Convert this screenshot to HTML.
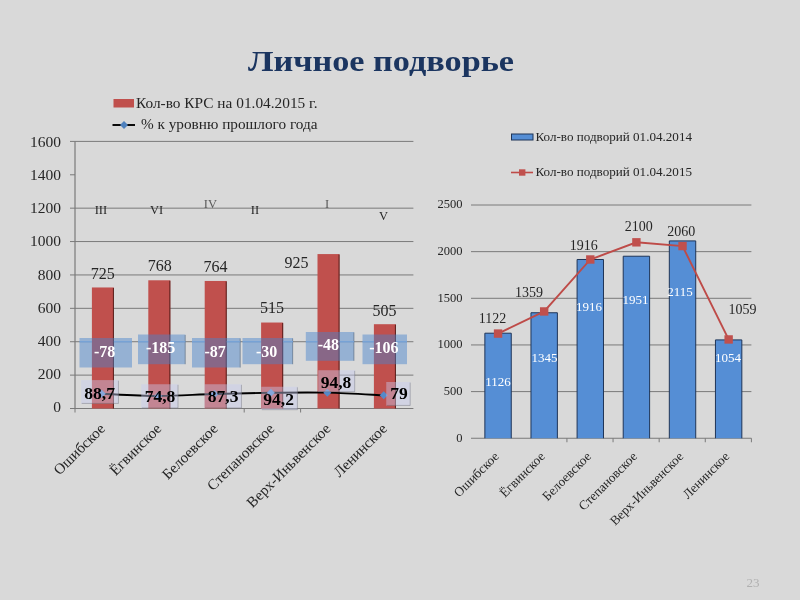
<!DOCTYPE html>
<html lang="ru">
<head>
<meta charset="utf-8">
<title>Личное подворье</title>
<style>
html,body{margin:0;padding:0;background:#d9d9d9;}
body{width:800px;height:600px;overflow:hidden;font-family:"Liberation Serif", serif;}
svg{display:block;font-family:"Liberation Serif", serif;filter:blur(0.4px);}
</style>
</head>
<body>
<svg width="800" height="600" viewBox="0 0 800 600">
<rect width="800" height="600" fill="#d9d9d9"/>
<text x="381" y="70.5" font-size="30" text-anchor="middle" font-weight="bold" fill="#1b3560" textLength="266" lengthAdjust="spacingAndGlyphs">Личное подворье</text>
<g id="left-chart">
<line x1="70" y1="375.11" x2="413.4" y2="375.11" stroke="#7a7a7a" stroke-width="1"/>
<line x1="70" y1="341.73" x2="413.4" y2="341.73" stroke="#7a7a7a" stroke-width="1"/>
<line x1="70" y1="308.34" x2="413.4" y2="308.34" stroke="#7a7a7a" stroke-width="1"/>
<line x1="70" y1="274.95" x2="413.4" y2="274.95" stroke="#7a7a7a" stroke-width="1"/>
<line x1="70" y1="241.56" x2="413.4" y2="241.56" stroke="#7a7a7a" stroke-width="1"/>
<line x1="70" y1="208.17" x2="413.4" y2="208.17" stroke="#7a7a7a" stroke-width="1"/>
<line x1="70" y1="141.40" x2="413.4" y2="141.40" stroke="#7a7a7a" stroke-width="1"/>
<line x1="70" y1="174.79" x2="75" y2="174.79" stroke="#7a7a7a" stroke-width="1"/>
<line x1="75" y1="141.4" x2="75" y2="408.5" stroke="#7a7a7a" stroke-width="1.2"/>
<line x1="70" y1="408.5" x2="413.4" y2="408.5" stroke="#7a7a7a" stroke-width="1.2"/>
<line x1="75.00" y1="408.5" x2="75.00" y2="412.5" stroke="#7a7a7a" stroke-width="1"/>
<line x1="244.20" y1="408.5" x2="244.20" y2="412.5" stroke="#7a7a7a" stroke-width="1"/>
<line x1="300.60" y1="408.5" x2="300.60" y2="412.5" stroke="#7a7a7a" stroke-width="1"/>
<text x="61" y="411.6" font-size="15.5" text-anchor="end" font-weight="normal" fill="#262626">0</text>
<text x="61" y="378.8" font-size="15.5" text-anchor="end" font-weight="normal" fill="#262626">200</text>
<text x="61" y="345.6" font-size="15.5" text-anchor="end" font-weight="normal" fill="#262626">400</text>
<text x="61" y="312.6" font-size="15.5" text-anchor="end" font-weight="normal" fill="#262626">600</text>
<text x="61" y="279.8" font-size="15.5" text-anchor="end" font-weight="normal" fill="#262626">800</text>
<text x="61" y="245.6" font-size="15.5" text-anchor="end" font-weight="normal" fill="#262626">1000</text>
<text x="61" y="213.3" font-size="15.5" text-anchor="end" font-weight="normal" fill="#262626">1200</text>
<text x="61" y="180.2" font-size="15.5" text-anchor="end" font-weight="normal" fill="#262626">1400</text>
<text x="61" y="146.7" font-size="15.5" text-anchor="end" font-weight="normal" fill="#262626">1600</text>
<rect x="91.90" y="287.47" width="22" height="121.03" fill="#c0504d"/>
<rect x="112.90" y="287.97" width="1.1" height="120.53" fill="#4a1614" opacity="0.8"/>
<rect x="148.30" y="280.29" width="22" height="128.21" fill="#c0504d"/>
<rect x="169.30" y="280.79" width="1.1" height="127.71" fill="#4a1614" opacity="0.8"/>
<rect x="204.70" y="280.96" width="22" height="127.54" fill="#c0504d"/>
<rect x="225.70" y="281.46" width="1.1" height="127.04" fill="#4a1614" opacity="0.8"/>
<rect x="261.10" y="322.53" width="22" height="85.97" fill="#c0504d"/>
<rect x="282.10" y="323.03" width="1.1" height="85.47" fill="#4a1614" opacity="0.8"/>
<rect x="317.50" y="254.08" width="22" height="154.42" fill="#c0504d"/>
<rect x="338.50" y="254.58" width="1.1" height="153.92" fill="#4a1614" opacity="0.8"/>
<rect x="373.90" y="324.20" width="22" height="84.30" fill="#c0504d"/>
<rect x="394.90" y="324.70" width="1.1" height="83.80" fill="#4a1614" opacity="0.8"/>
<text x="102.75" y="278.5" font-size="16" text-anchor="middle" font-weight="normal" fill="#262626">725</text>
<text x="159.75" y="270.8" font-size="16" text-anchor="middle" font-weight="normal" fill="#262626">768</text>
<text x="215.5" y="272" font-size="16" text-anchor="middle" font-weight="normal" fill="#262626">764</text>
<text x="272" y="313" font-size="16" text-anchor="middle" font-weight="normal" fill="#262626">515</text>
<text x="296.6" y="268" font-size="16" text-anchor="middle" font-weight="normal" fill="#262626">925</text>
<text x="384.4" y="315.8" font-size="16" text-anchor="middle" font-weight="normal" fill="#262626">505</text>
<text x="100.9" y="214.3" font-size="12.5" text-anchor="middle" font-weight="normal" fill="#262626">III</text>
<text x="156.5" y="214.3" font-size="12.5" text-anchor="middle" font-weight="normal" fill="#262626">VI</text>
<text x="210.4" y="208" font-size="12.5" text-anchor="middle" font-weight="normal" fill="#5a5a5a">IV</text>
<text x="255" y="214.3" font-size="12.5" text-anchor="middle" font-weight="normal" fill="#262626">II</text>
<text x="327" y="208" font-size="12.5" text-anchor="middle" font-weight="normal" fill="#5a5a5a">I</text>
<text x="383.5" y="220.3" font-size="12.5" text-anchor="middle" font-weight="normal" fill="#262626">V</text>
<rect x="79.5" y="338" width="52.5" height="29.5" fill="#4682cd" fill-opacity="0.46"/>
<line x1="79.5" y1="341.73" x2="91.90" y2="341.73" stroke="#7aa7dc" stroke-width="1.2"/>
<line x1="113.90" y1="341.73" x2="132" y2="341.73" stroke="#7aa7dc" stroke-width="1.2"/>
<text x="104.6" y="357.1" font-size="16" text-anchor="middle" font-weight="bold" fill="#ffffff">-78</text>
<rect x="138" y="334.5" width="47.5" height="29.69999999999999" fill="#4682cd" fill-opacity="0.46"/>
<line x1="185.2" y1="335.0" x2="185.2" y2="364.2" stroke="#3c3c3c" stroke-opacity="0.45" stroke-width="0.8"/>
<line x1="138" y1="341.73" x2="148.30" y2="341.73" stroke="#7aa7dc" stroke-width="1.2"/>
<line x1="170.30" y1="341.73" x2="185.5" y2="341.73" stroke="#7aa7dc" stroke-width="1.2"/>
<text x="160.6" y="353.40000000000003" font-size="16" text-anchor="middle" font-weight="bold" fill="#ffffff">-185</text>
<rect x="192" y="338" width="48.5" height="29.5" fill="#4682cd" fill-opacity="0.46"/>
<line x1="240.2" y1="338.5" x2="240.2" y2="367.5" stroke="#3c3c3c" stroke-opacity="0.45" stroke-width="0.8"/>
<line x1="192" y1="341.73" x2="204.70" y2="341.73" stroke="#7aa7dc" stroke-width="1.2"/>
<line x1="226.70" y1="341.73" x2="240.5" y2="341.73" stroke="#7aa7dc" stroke-width="1.2"/>
<text x="215.1" y="356.6" font-size="16" text-anchor="middle" font-weight="bold" fill="#ffffff">-87</text>
<rect x="242.5" y="338" width="50.5" height="26.19999999999999" fill="#4682cd" fill-opacity="0.46"/>
<line x1="292.7" y1="338.5" x2="292.7" y2="364.2" stroke="#3c3c3c" stroke-opacity="0.45" stroke-width="0.8"/>
<line x1="242.5" y1="341.73" x2="261.10" y2="341.73" stroke="#7aa7dc" stroke-width="1.2"/>
<line x1="283.10" y1="341.73" x2="293" y2="341.73" stroke="#7aa7dc" stroke-width="1.2"/>
<text x="266.6" y="356.6" font-size="16" text-anchor="middle" font-weight="bold" fill="#ffffff">-30</text>
<rect x="305.8" y="332" width="48.39999999999998" height="28.80000000000001" fill="#4682cd" fill-opacity="0.46"/>
<line x1="353.9" y1="332.5" x2="353.9" y2="360.8" stroke="#3c3c3c" stroke-opacity="0.45" stroke-width="0.8"/>
<line x1="305.8" y1="341.73" x2="317.50" y2="341.73" stroke="#7aa7dc" stroke-width="1.2"/>
<line x1="339.50" y1="341.73" x2="354.2" y2="341.73" stroke="#7aa7dc" stroke-width="1.2"/>
<text x="328.40000000000003" y="350.40000000000003" font-size="16" text-anchor="middle" font-weight="bold" fill="#ffffff">-48</text>
<rect x="362.5" y="334.5" width="44.5" height="29.69999999999999" fill="#4682cd" fill-opacity="0.46"/>
<line x1="362.5" y1="341.73" x2="373.90" y2="341.73" stroke="#7aa7dc" stroke-width="1.2"/>
<line x1="395.90" y1="341.73" x2="407" y2="341.73" stroke="#7aa7dc" stroke-width="1.2"/>
<text x="383.8" y="353.40000000000003" font-size="16" text-anchor="middle" font-weight="bold" fill="#ffffff">-106</text>
<path d="M101.70,393.69 C111.10,394.08 139.30,395.97 158.10,396.01 C176.90,396.05 195.70,394.47 214.50,393.93 C233.30,393.39 252.10,392.98 270.90,392.77 C289.70,392.57 308.50,392.25 327.30,392.67 C346.10,393.10 374.30,394.87 383.70,395.31" fill="none" stroke="#000" stroke-width="1.9"/>
<path d="M97.70,393.69 L101.70,389.69 L105.70,393.69 L101.70,397.69Z" fill="#5589c8"/>
<path d="M154.10,396.01 L158.10,392.01 L162.10,396.01 L158.10,400.01Z" fill="#5589c8"/>
<path d="M210.50,393.93 L214.50,389.93 L218.50,393.93 L214.50,397.93Z" fill="#5589c8"/>
<path d="M266.90,392.77 L270.90,388.77 L274.90,392.77 L270.90,396.77Z" fill="#5589c8"/>
<path d="M323.30,392.67 L327.30,388.67 L331.30,392.67 L327.30,396.67Z" fill="#5589c8"/>
<path d="M379.70,395.31 L383.70,391.31 L387.70,395.31 L383.70,399.31Z" fill="#5589c8"/>
<rect x="81.1" y="380.1" width="37.650000000000006" height="23.649999999999977" fill="#c8cdf0" fill-opacity="0.43"/>
<path d="M118.45,380.70000000000005 V403.45 H81.69999999999999" fill="none" stroke="#505050" stroke-opacity="0.4" stroke-width="0.8"/>
<text x="99.6" y="398.9" font-size="17.5" text-anchor="middle" font-weight="bold" fill="#000">88,7</text>
<rect x="141.25" y="384.25" width="37.05000000000001" height="24.0" fill="#c8cdf0" fill-opacity="0.43"/>
<path d="M178.0,384.85 V407.95 H141.85" fill="none" stroke="#505050" stroke-opacity="0.4" stroke-width="0.8"/>
<text x="160" y="402.3" font-size="17.5" text-anchor="middle" font-weight="bold" fill="#000">74,8</text>
<rect x="204.5" y="384.25" width="37.25" height="24.0" fill="#c8cdf0" fill-opacity="0.43"/>
<path d="M241.45,384.85 V407.95 H205.1" fill="none" stroke="#505050" stroke-opacity="0.4" stroke-width="0.8"/>
<text x="223.1" y="402.3" font-size="17.5" text-anchor="middle" font-weight="bold" fill="#000">87,3</text>
<rect x="261.25" y="386.75" width="36.44999999999999" height="23.25" fill="#c8cdf0" fill-opacity="0.43"/>
<path d="M297.4,387.35 V409.7 H261.85" fill="none" stroke="#505050" stroke-opacity="0.4" stroke-width="0.8"/>
<text x="278.6" y="405.2" font-size="17.5" text-anchor="middle" font-weight="bold" fill="#000">94,2</text>
<rect x="318.25" y="370.25" width="36.75" height="21.75" fill="#c8cdf0" fill-opacity="0.43"/>
<path d="M354.7,370.85 V391.7 H318.85" fill="none" stroke="#505050" stroke-opacity="0.4" stroke-width="0.8"/>
<text x="336" y="387.5" font-size="17.5" text-anchor="middle" font-weight="bold" fill="#000">94,8</text>
<rect x="386.25" y="382" width="24.25" height="23.75" fill="#c8cdf0" fill-opacity="0.43"/>
<path d="M410.2,382.6 V405.45 H386.85" fill="none" stroke="#505050" stroke-opacity="0.4" stroke-width="0.8"/>
<text x="399" y="399.4" font-size="17.5" text-anchor="middle" font-weight="bold" fill="#000">79</text>
<text transform="translate(105.90,429.5) rotate(-45)" font-size="15" text-anchor="end" fill="#262626">Ошибское</text>
<text transform="translate(162.30,429.5) rotate(-45)" font-size="15" text-anchor="end" fill="#262626">Ёгвинское</text>
<text transform="translate(218.70,429.5) rotate(-45)" font-size="15" text-anchor="end" fill="#262626">Белоевское</text>
<text transform="translate(275.10,429.5) rotate(-45)" font-size="15" text-anchor="end" fill="#262626">Степановское</text>
<text transform="translate(331.50,429.5) rotate(-45)" font-size="15" text-anchor="end" fill="#262626">Верх-Иньвенское</text>
<text transform="translate(387.90,429.5) rotate(-45)" font-size="15" text-anchor="end" fill="#262626">Ленинское</text>
<rect x="113.5" y="99" width="20.5" height="8.5" fill="#c0504d"/>
<text x="136" y="107.5" font-size="14.5" text-anchor="start" font-weight="normal" fill="#262626" textLength="181.5" lengthAdjust="spacingAndGlyphs">Кол-во КРС на 01.04.2015 г.</text>
<line x1="112.5" y1="125" x2="135" y2="125" stroke="#000" stroke-width="1.9"/>
<path d="M120,125 L124,121 L128,125 L124,129Z" fill="#4f81bd"/>
<text x="141" y="129" font-size="14.5" text-anchor="start" font-weight="normal" fill="#262626" textLength="176.5" lengthAdjust="spacingAndGlyphs">% к уровню прошлого года</text>
</g>
<g id="right-chart">
<line x1="471.0" y1="438.25" x2="751.4" y2="438.25" stroke="#7a7a7a" stroke-width="1"/>
<text x="462.5" y="441.55" font-size="12.5" text-anchor="end" font-weight="normal" fill="#262626">0</text>
<line x1="471.0" y1="391.60" x2="751.4" y2="391.60" stroke="#7a7a7a" stroke-width="1"/>
<text x="462.5" y="394.90000000000003" font-size="12.5" text-anchor="end" font-weight="normal" fill="#262626">500</text>
<line x1="471.0" y1="344.95" x2="751.4" y2="344.95" stroke="#7a7a7a" stroke-width="1"/>
<text x="462.5" y="348.25" font-size="12.5" text-anchor="end" font-weight="normal" fill="#262626">1000</text>
<line x1="471.0" y1="298.30" x2="751.4" y2="298.30" stroke="#7a7a7a" stroke-width="1"/>
<text x="462.5" y="301.6" font-size="12.5" text-anchor="end" font-weight="normal" fill="#262626">1500</text>
<line x1="471.0" y1="251.65" x2="751.4" y2="251.65" stroke="#7a7a7a" stroke-width="1"/>
<text x="462.5" y="254.95" font-size="12.5" text-anchor="end" font-weight="normal" fill="#262626">2000</text>
<line x1="471.0" y1="205.00" x2="751.4" y2="205.00" stroke="#7a7a7a" stroke-width="1"/>
<text x="462.5" y="208.3" font-size="12.5" text-anchor="end" font-weight="normal" fill="#262626">2500</text>
<line x1="566.93" y1="438.25" x2="566.93" y2="442.25" stroke="#7a7a7a" stroke-width="1"/>
<line x1="613.05" y1="438.25" x2="613.05" y2="442.25" stroke="#7a7a7a" stroke-width="1"/>
<line x1="659.17" y1="438.25" x2="659.17" y2="442.25" stroke="#7a7a7a" stroke-width="1"/>
<line x1="705.28" y1="438.25" x2="705.28" y2="442.25" stroke="#7a7a7a" stroke-width="1"/>
<line x1="751.40" y1="438.25" x2="751.40" y2="442.25" stroke="#7a7a7a" stroke-width="1"/>
<rect x="484.86" y="333.19" width="26.4" height="105.06" fill="#558ed5"/>
<path d="M484.86,438.25 V333.19 H511.26 V438.25" fill="none" stroke="#1f3558" stroke-width="1"/>
<rect x="530.97" y="312.76" width="26.4" height="125.49" fill="#558ed5"/>
<path d="M530.97,438.25 V312.76 H557.38 V438.25" fill="none" stroke="#1f3558" stroke-width="1"/>
<rect x="577.09" y="259.49" width="26.4" height="178.76" fill="#558ed5"/>
<path d="M577.09,438.25 V259.49 H603.49 V438.25" fill="none" stroke="#1f3558" stroke-width="1"/>
<rect x="623.21" y="256.22" width="26.4" height="182.03" fill="#558ed5"/>
<path d="M623.21,438.25 V256.22 H649.61 V438.25" fill="none" stroke="#1f3558" stroke-width="1"/>
<rect x="669.32" y="240.92" width="26.4" height="197.33" fill="#558ed5"/>
<path d="M669.32,438.25 V240.92 H695.73 V438.25" fill="none" stroke="#1f3558" stroke-width="1"/>
<rect x="715.44" y="339.91" width="26.4" height="98.34" fill="#558ed5"/>
<path d="M715.44,438.25 V339.91 H741.84 V438.25" fill="none" stroke="#1f3558" stroke-width="1"/>
<text x="498" y="386.2" font-size="13" text-anchor="middle" font-weight="normal" fill="#ffffff">1126</text>
<text x="544.5" y="361.7" font-size="13" text-anchor="middle" font-weight="normal" fill="#ffffff">1345</text>
<text x="589" y="310.5" font-size="13" text-anchor="middle" font-weight="normal" fill="#ffffff">1916</text>
<text x="635.5" y="303.7" font-size="13" text-anchor="middle" font-weight="normal" fill="#ffffff">1951</text>
<text x="680" y="296.2" font-size="13" text-anchor="middle" font-weight="normal" fill="#ffffff">2115</text>
<text x="728" y="361.9" font-size="13" text-anchor="middle" font-weight="normal" fill="#ffffff">1054</text>
<polyline points="498.06,333.57 544.17,311.46 590.29,259.49 636.41,242.32 682.52,246.05 728.64,339.45" fill="none" stroke="#be4b48" stroke-width="1.9"/>
<rect x="493.86" y="329.37" width="8.4" height="8.4" fill="#c0504d"/>
<rect x="539.97" y="307.26" width="8.4" height="8.4" fill="#c0504d"/>
<rect x="586.09" y="255.29" width="8.4" height="8.4" fill="#c0504d"/>
<rect x="632.21" y="238.12" width="8.4" height="8.4" fill="#c0504d"/>
<rect x="678.32" y="241.85" width="8.4" height="8.4" fill="#c0504d"/>
<rect x="724.44" y="335.25" width="8.4" height="8.4" fill="#c0504d"/>
<text x="492.5" y="323.0" font-size="14" text-anchor="middle" font-weight="normal" fill="#262626">1122</text>
<text x="529" y="297.0" font-size="14" text-anchor="middle" font-weight="normal" fill="#262626">1359</text>
<text x="583.8" y="250.0" font-size="14" text-anchor="middle" font-weight="normal" fill="#262626">1916</text>
<text x="638.8" y="230.8" font-size="14" text-anchor="middle" font-weight="normal" fill="#262626">2100</text>
<text x="681.2" y="235.8" font-size="14" text-anchor="middle" font-weight="normal" fill="#262626">2060</text>
<text x="742.5" y="314.2" font-size="14" text-anchor="middle" font-weight="normal" fill="#262626">1059</text>
<text transform="translate(499.56,457.2) rotate(-45)" font-size="13.1" text-anchor="end" fill="#262626">Ошибское</text>
<text transform="translate(545.67,457.2) rotate(-45)" font-size="13.1" text-anchor="end" fill="#262626">Ёгвинское</text>
<text transform="translate(591.79,457.2) rotate(-45)" font-size="13.1" text-anchor="end" fill="#262626">Белоевское</text>
<text transform="translate(637.91,457.2) rotate(-45)" font-size="13.1" text-anchor="end" fill="#262626">Степановское</text>
<text transform="translate(684.02,457.2) rotate(-45)" font-size="13.1" text-anchor="end" fill="#262626">Верх-Иньвенское</text>
<text transform="translate(730.14,457.2) rotate(-45)" font-size="13.1" text-anchor="end" fill="#262626">Ленинское</text>
<rect x="511.5" y="134" width="21.5" height="6" fill="#558ed5" stroke="#1f3558" stroke-width="1"/>
<text x="535.5" y="140.5" font-size="12.5" text-anchor="start" font-weight="normal" fill="#262626" textLength="156.5" lengthAdjust="spacingAndGlyphs">Кол-во подворий 01.04.2014</text>
<line x1="511" y1="172.5" x2="533" y2="172.5" stroke="#be4b48" stroke-width="1.6"/>
<rect x="519" y="169.3" width="6.4" height="6.4" fill="#c0504d"/>
<text x="535.5" y="176.3" font-size="12.5" text-anchor="start" font-weight="normal" fill="#262626" textLength="156.5" lengthAdjust="spacingAndGlyphs">Кол-во подворий 01.04.2015</text>
</g>
<text x="753" y="586.8" font-size="13" text-anchor="middle" font-weight="normal" fill="#b0b0b0">23</text>
</svg>
</body>
</html>
